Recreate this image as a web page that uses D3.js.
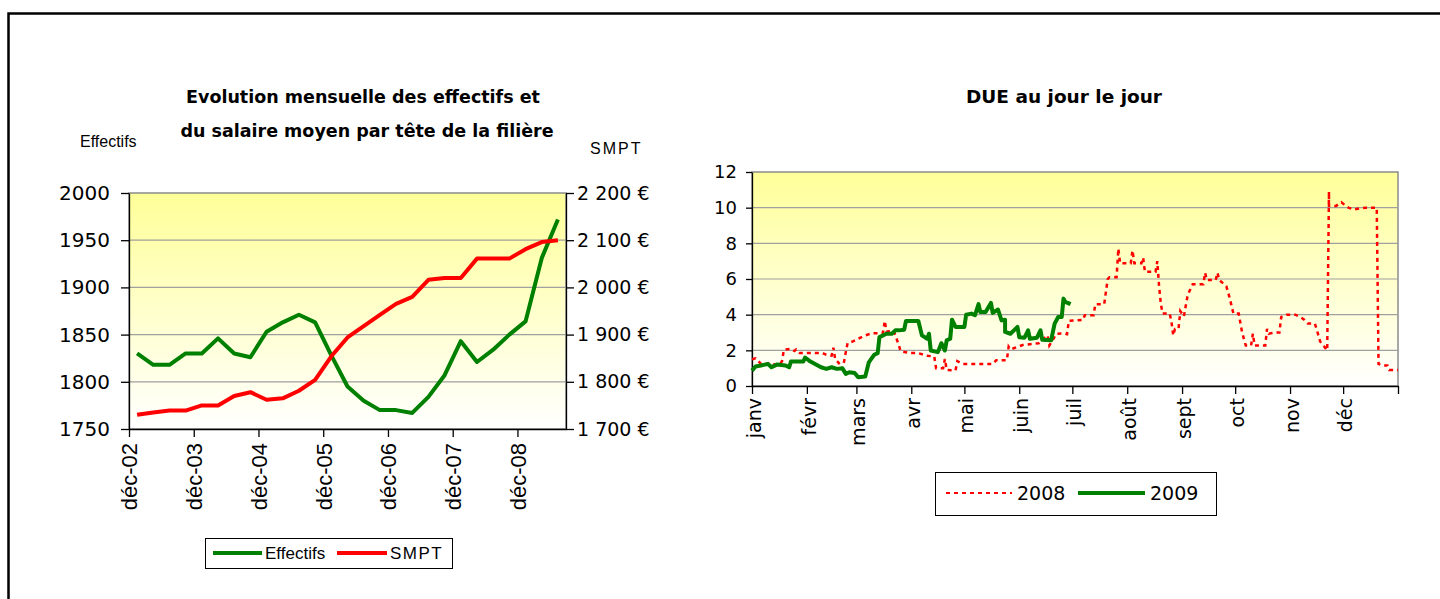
<!DOCTYPE html>
<html>
<head>
<meta charset="utf-8">
<script src="https://cdn.jsdelivr.net/npm/d3@7"></script>
<style>
  body { margin: 0; background: #fff; }
  svg { display: block; }
  .comic { font-family: 'Comic Sans MS', 'DejaVu Sans', sans-serif; }
  .arial { font-family: 'Liberation Sans', Arial, sans-serif; }
</style>
</head>
<body>
<svg id="chart" width="1440" height="599"></svg>
<script>
// Left chart data (quarterly)
var quarters = ['déc-02', 'mars-03', 'juin-03', 'sept-03', 'déc-03', 'mars-04', 'juin-04', 'sept-04',
    'déc-04', 'mars-05', 'juin-05', 'sept-05', 'déc-05', 'mars-06', 'juin-06', 'sept-06',
    'déc-06', 'mars-07', 'juin-07', 'sept-07', 'déc-07', 'mars-08', 'juin-08', 'sept-08',
    'déc-08', 'mars-09', 'juin-09'];
var effectifs = [1830, 1818, 1818, 1830, 1830, 1846, 1830, 1826, 1853, 1863, 1871, 1863, 1828, 1795,
    1780, 1770, 1770, 1767, 1784, 1807, 1843, 1821, 1834, 1850, 1864, 1931, 1972];
var smpt = [1730, 1735, 1739, 1739, 1750, 1750, 1770, 1778, 1762, 1765, 1781, 1804, 1854, 1894,
    1918, 1942, 1965, 1980, 2016, 2020, 2020, 2061, 2061, 2061, 2081, 2096, 2100];
var effTicks = [1750, 1800, 1850, 1900, 1950, 2000];
var smptTicks = [1700, 1800, 1900, 2000, 2100, 2200];

// Right chart data (day of year, DUE)
var monthLabels = ['janv', 'févr', 'mars', 'avr', 'mai', 'juin', 'juil', 'août', 'sept', 'oct', 'nov', 'déc'];
var dueTicks = [0, 2, 4, 6, 8, 10, 12];
var days2009 = [0, 2, 5, 9, 11, 14, 19, 21, 22, 29, 30, 33, 39, 42, 45, 48, 51, 53, 55, 58, 60, 64, 66, 69,
    71, 72, 76, 79, 81, 83, 86, 87, 94, 96, 99, 100, 101, 105, 107, 109, 110, 112, 113, 115, 120, 121,
    124, 126, 128, 129, 132, 135, 136, 139, 141, 143, 143, 146, 148, 150, 151, 154, 156, 157, 161, 163,
    164, 169, 171, 173, 175, 176, 177, 180];
var due2009 = [0.86, 1.09, 1.15, 1.24, 1.05, 1.2, 1.15, 1.05, 1.37, 1.37, 1.6, 1.37, 1.05, 0.96, 1.05, 0.96,
    1.0, 0.68, 0.77, 0.73, 0.49, 0.53, 1.33, 1.75, 1.84, 2.74, 2.93, 2.93, 3.12, 3.12, 3.16, 3.65, 3.65,
    2.84, 2.65, 2.93, 1.99, 1.9, 2.4, 1.99, 2.56, 2.65, 3.72, 3.31, 3.31, 4.0, 4.06, 3.97, 4.59, 4.15,
    4.15, 4.66, 4.1, 4.29, 3.68, 3.72, 3.03, 2.93, 3.12, 3.31, 2.74, 2.71, 3.12, 2.65, 2.71, 3.12, 2.59,
    2.56, 3.5, 3.87, 3.87, 4.9, 4.72, 4.59];
var days2008 = [0, 2, 4, 5, 9, 10, 12, 16, 17, 18, 22, 24, 25, 27, 40, 42, 45, 46, 47, 49, 50, 51, 52, 53,
    54, 57, 60, 63, 66, 68, 74, 75, 76, 80, 81, 83, 84, 89, 94, 99, 103, 104, 108, 109, 110, 115, 116,
    119, 136, 138, 144, 145, 146, 153, 162, 167, 168, 172, 176, 178, 179, 187, 188, 193, 194, 199, 200,
    201, 202, 206, 207, 208, 214, 215, 216, 220, 221, 222, 228, 229, 230, 231, 232, 236, 237, 238, 239,
    241, 242, 244, 246, 247, 249, 255, 256, 257, 262, 263, 264, 268, 270, 272, 275, 276, 277, 279, 282,
    283, 284, 290, 291, 292, 295, 298, 299, 302, 307, 310, 312, 314, 318, 319, 321, 325, 326, 326, 330,
    333, 337, 340, 343, 347, 353, 354, 356, 359, 360, 365];
var due2008 = [1.5, 1.55, 1.35, 1.25, 1.25, 1.32, 1.2, 1.25, 1.4, 2.03, 2.08, 1.96, 2.05, 1.85, 1.85, 1.75,
    1.7, 2.15, 1.5, 1.3, 0.96, 1.0, 1.35, 1.9, 2.4, 2.5, 2.65, 2.8, 2.9, 2.95, 2.97, 3.65, 3.05, 3.1,
    2.85, 2.27, 1.95, 1.85, 1.84, 1.7, 1.65, 1.0, 1.0, 1.52, 0.9, 0.88, 1.4, 1.24, 1.24, 1.45, 1.45,
    2.2, 2.05, 2.3, 2.4, 2.84, 2.27, 2.93, 2.95, 2.9, 3.65, 3.7, 3.97, 3.97, 4.59, 4.59, 5.3, 6.0, 6.1,
    6.1, 7.7, 6.88, 6.88, 7.6, 6.88, 6.88, 7.2, 6.4, 6.4, 7.0, 5.6, 4.6, 4.06, 4.06, 3.6, 2.84, 3.2,
    3.2, 4.2, 3.9, 5.0, 5.28, 5.7, 5.7, 6.35, 5.94, 5.94, 6.35, 5.94, 5.6, 4.9, 4.06, 4.06, 3.5, 2.97,
    2.27, 2.27, 2.93, 2.27, 2.27, 3.2, 2.93, 3.0, 3.0, 3.87, 4.0, 4.0, 3.85, 3.72, 3.5, 3.5, 3.2, 2.5,
    2.0, 10.9, 10.1, 10.1, 10.3, 10.0, 9.9, 9.95, 10.0, 10.0, 1.24, 1.15, 1.15, 0.9, 0.9];

var svg = d3.select('#chart');
var frLocale = d3.formatLocale({decimal: ',', thousands: ' ', grouping: [3], currency: ['', ' €']});

// gradient for plot areas
var grad = svg.append('defs').append('linearGradient')
    .attr('id', 'plotbg').attr('x1', 0).attr('y1', 0).attr('x2', 0).attr('y2', 1);
grad.append('stop').attr('offset', '0%').attr('stop-color', '#ffff99');
grad.append('stop').attr('offset', '100%').attr('stop-color', '#ffffff');

// outer frame
svg.append('rect')
    .attr('x', 8.5).attr('y', 13.5).attr('width', 1600).attr('height', 800)
    .attr('fill', 'none').attr('stroke', '#000').attr('stroke-width', 2.5);

drawLeftChart();
drawRightChart();

function plotBox(x0, x1, y0, y1) {
    svg.append('rect')
        .attr('x', x0).attr('y', y0).attr('width', x1 - x0).attr('height', y1 - y0)
        .attr('fill', 'url(#plotbg)').attr('stroke', '#8c8c8c').attr('stroke-width', 1.5);
}

function drawLeftChart() {
    var x0 = 129, x1 = 566, y0 = 193, y1 = 429;
    var x = d3.scaleLinear().domain([0, quarters.length]).range([x0, x1]);
    var yEff = d3.scaleLinear().domain([1750, 2000]).range([y1, y0]);
    var ySmpt = d3.scaleLinear().domain([1700, 2200]).range([y1, y0]);

    plotBox(x0, x1, y0, y1);

    // grid
    svg.append('g').selectAll('line')
        .data(effTicks.slice(1, -1))
        .enter().append('line')
        .attr('x1', x0).attr('x2', x1)
        .attr('y1', d => yEff(d)).attr('y2', d => yEff(d))
        .attr('stroke', '#a0a0a0').attr('stroke-width', 1.2);

    var gl = svg.append('g').attr('transform', 'translate(' + x0 + ',0)')
        .call(d3.axisLeft(yEff).tickValues(effTicks).tickSize(8).tickSizeOuter(0).tickFormat(d3.format('d')));
    gl.selectAll('text').attr('class', 'comic').style('font-size', '20px').attr('fill', '#000').attr('x', -19);

    var gr = svg.append('g').attr('transform', 'translate(' + x1 + ',0)')
        .call(d3.axisRight(ySmpt).tickValues(smptTicks).tickSize(8).tickSizeOuter(0).tickFormat(frLocale.format('$,')));
    gr.selectAll('text').attr('class', 'comic').style('font-size', '19px').attr('fill', '#000').attr('x', 11);

    var gx = svg.append('g').attr('transform', 'translate(0,' + y1 + ')')
        .call(d3.axisBottom(x).tickValues(d3.range(0, 25, 4)).tickSize(8).tickSizeOuter(0)
            .tickFormat(i => quarters[i]));
    gx.selectAll('text').attr('class', 'arial').style('font-size', '22px').attr('fill', '#000')
        .attr('transform', 'rotate(-90)').style('text-anchor', 'end')
        .attr('x', -14).attr('y', 0).attr('dy', '0.36em');
    svg.selectAll('.domain, .tick line').attr('stroke', '#000').attr('stroke-width', 1.3);

    var lineEff = d3.line().x((d, i) => x(i + 0.5)).y(d => yEff(d));
    var lineSmpt = d3.line().x((d, i) => x(i + 0.5)).y(d => ySmpt(d));
    svg.append('path').datum(effectifs).attr('d', lineEff)
        .attr('fill', 'none').attr('stroke', '#008000').attr('stroke-width', 4).attr('stroke-linejoin', 'round');
    svg.append('path').datum(smpt).attr('d', lineSmpt)
        .attr('fill', 'none').attr('stroke', '#ff0000').attr('stroke-width', 4).attr('stroke-linejoin', 'round');

    // titles
    svg.append('text').attr('class', 'comic').attr('x', 363).attr('y', 103)
        .attr('text-anchor', 'middle').style('font-size', '17.5px').style('font-weight', 'bold')
        .text('Evolution mensuelle des effectifs et');
    svg.append('text').attr('class', 'comic').attr('x', 367).attr('y', 137)
        .attr('text-anchor', 'middle').style('font-size', '17.5px').style('font-weight', 'bold')
        .text('du salaire moyen par tête de la filière');
    svg.append('text').attr('class', 'arial').attr('x', 80).attr('y', 147)
        .style('font-size', '16px').text('Effectifs');
    svg.append('text').attr('class', 'arial').attr('x', 590).attr('y', 154)
        .style('font-size', '16px').style('letter-spacing', '2px').text('SMPT');

    // legend
    var lg = svg.append('g');
    lg.append('rect').attr('x', 205.5).attr('y', 538.5).attr('width', 247).attr('height', 30)
        .attr('fill', '#fff').attr('stroke', '#000').attr('stroke-width', 1);
    lg.append('line').attr('x1', 213).attr('x2', 262).attr('y1', 553).attr('y2', 553)
        .attr('stroke', '#008000').attr('stroke-width', 4);
    lg.append('text').attr('class', 'arial').attr('x', 265).attr('y', 559).style('font-size', '17px').text('Effectifs');
    lg.append('line').attr('x1', 337).attr('x2', 387).attr('y1', 553).attr('y2', 553)
        .attr('stroke', '#ff0000').attr('stroke-width', 4);
    lg.append('text').attr('class', 'arial').attr('x', 390).attr('y', 559).style('font-size', '17px')
        .style('letter-spacing', '1.5px').text('SMPT');
}

function drawRightChart() {
    var x0 = 752, x1 = 1398, y0 = 172, y1 = 386;
    var start = new Date(2009, 0, 1), end = new Date(2010, 0, 1);
    var x = d3.scaleTime().domain([start, end]).range([x0, x1]);
    var y = d3.scaleLinear().domain([0, 12]).range([y1, y0]);
    var toDate = d => new Date(2009, 0, 1 + d);

    plotBox(x0, x1, y0, y1);

    svg.append('g').selectAll('line')
        .data(dueTicks.slice(1, -1))
        .enter().append('line')
        .attr('x1', x0).attr('x2', x1)
        .attr('y1', d => y(d)).attr('y2', d => y(d))
        .attr('stroke', '#a0a0a0').attr('stroke-width', 1.2);

    var gy = svg.append('g').attr('class', 'rax').attr('transform', 'translate(' + x0 + ',0)')
        .call(d3.axisLeft(y).tickValues(dueTicks).tickSize(6).tickSizeOuter(0));
    gy.selectAll('text').style('font-family', "'DejaVu Sans', Verdana, sans-serif")
        .style('font-size', '18px').attr('fill', '#000').attr('x', -15);

    var monthTicks = d3.timeMonth.range(start, d3.timeDay.offset(end, 1));
    var gx = svg.append('g').attr('class', 'rax').attr('transform', 'translate(0,' + y1 + ')')
        .call(d3.axisBottom(x).tickValues(monthTicks).tickSize(8).tickSizeOuter(0)
            .tickFormat(d => d < end ? monthLabels[d.getMonth()] : ''));
    gx.selectAll('text').attr('class', 'comic').style('font-size', '19px').attr('fill', '#000')
        .attr('transform', 'rotate(-90)').style('text-anchor', 'end')
        .attr('x', -12).attr('y', 0).attr('dy', '0.45em');
    svg.selectAll('.rax .domain, .rax .tick line').attr('stroke', '#000').attr('stroke-width', 1.3);

    var line = d3.line().x(d => x(toDate(d[0]))).y(d => y(d[1]));
    svg.append('path').datum(d3.zip(days2008, due2008)).attr('d', line)
        .attr('fill', 'none').attr('stroke', '#ff0000').attr('stroke-width', 2.5)
        .attr('stroke-dasharray', '4,4');
    svg.append('path').datum(d3.zip(days2009, due2009)).attr('d', line)
        .attr('fill', 'none').attr('stroke', '#008000').attr('stroke-width', 4).attr('stroke-linejoin', 'round');

    svg.append('text').attr('class', 'comic').attr('x', 1064).attr('y', 103)
        .attr('text-anchor', 'middle').style('font-size', '18.5px').style('font-weight', 'bold')
        .text('DUE au jour le jour');

    // legend
    var lg = svg.append('g');
    lg.append('rect').attr('x', 935.5).attr('y', 472.5).attr('width', 281).attr('height', 43)
        .attr('fill', '#fff').attr('stroke', '#000').attr('stroke-width', 1);
    lg.append('line').attr('x1', 946).attr('x2', 1012).attr('y1', 493).attr('y2', 493)
        .attr('stroke', '#ff0000').attr('stroke-width', 2).attr('stroke-dasharray', '4,4');
    lg.append('text').attr('class', 'comic').attr('x', 1017).attr('y', 500).style('font-size', '19px').text('2008');
    lg.append('line').attr('x1', 1078).attr('x2', 1145).attr('y1', 493).attr('y2', 493)
        .attr('stroke', '#008000').attr('stroke-width', 4);
    lg.append('text').attr('class', 'comic').attr('x', 1150).attr('y', 500).style('font-size', '19px').text('2009');
}
</script>
</body>
</html>
